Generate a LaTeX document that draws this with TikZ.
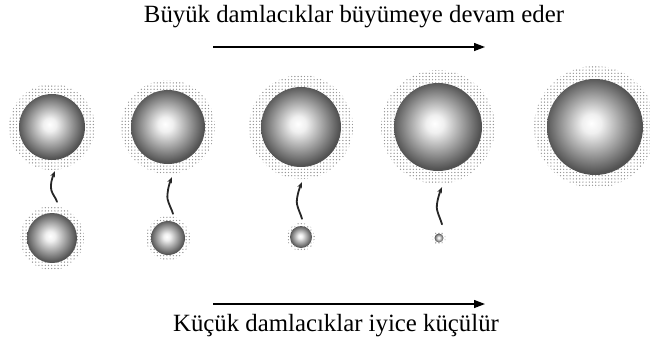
\documentclass[tikz,border=0pt]{standalone}
\usepackage{fontspec}
\setmainfont{Liberation Serif}
\usetikzlibrary{patterns,arrows.meta,calc}

% radial shading of a droplet: bright core, dark grey rim (rim at 25bp)
\pgfdeclareradialshading{droplet}{\pgfpoint{-2bp}{2bp}}{%
  color(0bp)=(white); color(5bp)=(white!94!black);
  color(16bp)=(black!40); color(25bp)=(black!68); color(50bp)=(black!68)}

% sparse dot grid for the vapour halo round each droplet
\pgfdeclarepatternformonly{halodots}{\pgfqpoint{-1bp}{-1bp}}{\pgfqpoint{2bp}{2bp}}%
  {\pgfqpoint{3.2bp}{3.2bp}}%
  {\pgfpathcircle{\pgfqpoint{0.5bp}{0.5bp}}{0.7bp}\pgfusepath{fill}}

\tikzset{
  halo/.style={circle, inner sep=0pt, minimum size=#1, pattern=halodots, pattern color=black!42},
  drop/.style={circle, inner sep=0pt, minimum size=#1, shading=droplet},
  trend/.style={line width=1.3bp, -{Triangle[length=11bp,width=8bp]}},
  squig/.style={line width=1.8bp, black!85, line cap=round, -{Stealth[length=6bp,width=5bp]}},
  caption/.style={font=\fontsize{24.8bp}{28bp}\selectfont, anchor=base, inner sep=0pt}
}

\begin{document}
\begin{tikzpicture}[x=1bp, y=-1bp]
\useasboundingbox (0,0) rectangle (650,349);

% captions and trend arrows
\node[caption] (toptxt) at (354,22) {Büyük damlacıklar büyümeye devam eder};
\node[caption] (bottxt) at (336,331) {Küçük damlacıklar iyice küçülür};
\coordinate (ta) at (213,47);  \coordinate (tb) at (485,47);
\coordinate (ba) at (213,304); \coordinate (bb) at (485,304);
\draw[trend] (ta) -- (tb);
\draw[trend] (ba) -- (bb);

% large droplets (upper row): halo, then shaded body
\node[halo=86bp]  (H1) at (52,127)  {};
\node[drop=66bp]  (B1) at (52,127)  {};
\node[halo=94bp]  (H2) at (168,127) {};
\node[drop=74bp]  (B2) at (168,127) {};
\node[halo=104bp] (H3) at (301,127) {};
\node[drop=80bp]  (B3) at (301,127) {};
\node[halo=114bp] (H4) at (438,127) {};
\node[drop=88bp]  (B4) at (438,127) {};
\node[halo=122bp] (H5) at (595,127) {};
\node[drop=96bp]  (B5) at (595,127) {};

% small droplets (lower row)
\node[halo=64bp] (h1) at (52,238)  {};
\node[drop=50bp] (s1) at (52,238)  {};
\node[halo=44bp] (h2) at (168,238) {};
\node[drop=34bp] (s2) at (168,238) {};
\node[halo=28bp] (h3) at (301,237) {};
\node[drop=22bp] (s3) at (301,237) {};
\node[halo=13bp] (h4) at (439,238) {};
\node[drop=9bp]  (s4) at (439,238) {};

% wavy arrows: molecules leaving small droplets for large ones
\foreach \i/\sx/\sy/\ex/\ey in {1/5/4/3/-1, 2/5/2/4/-3, 3/1/4/1/-3, 4/3/7/4/-3}{
  \coordinate (t\i) at ([xshift=\sx bp, yshift=\sy bp]h\i.north);
  \coordinate (p\i) at ([xshift=\ex bp, yshift=\ey bp]H\i.south);
  \coordinate (m\i) at ($(t\i)!0.4!(p\i)+(-5,0)$);
  \draw[squig] (t\i) .. controls +(-1,-4) and +(1,5) .. (m\i)
                     .. controls +(-1,-5) and +(-3,7) .. (p\i);
}
\end{tikzpicture}
\end{document}
